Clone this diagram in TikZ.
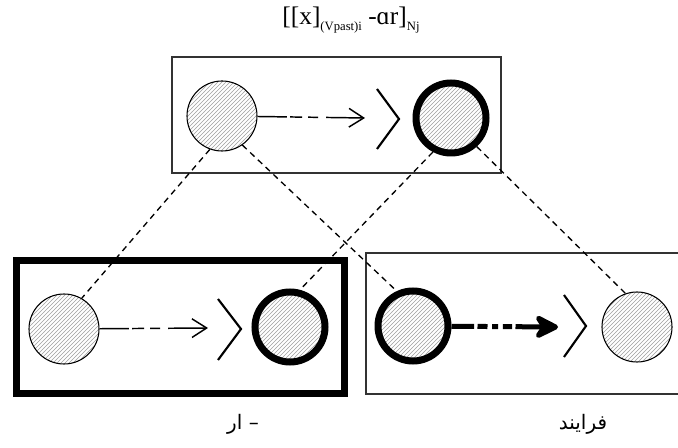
\documentclass[tikz,border=0pt]{standalone}
\usepackage{fontspec}
\usepackage{graphicx}
\setmainfont{Liberation Serif}
\newfontfamily\arabicfont[Script=Arabic]{DejaVu Sans}
\TeXXeTstate=1
\usetikzlibrary{arrows.meta,patterns}
\begin{document}
\begin{tikzpicture}[x=0.75pt,y=-0.75pt,
  hatched/.style={circle, draw, inner sep=0pt, minimum size=52.5pt, line width=0.8pt,
    pattern=north east lines, pattern color=gray!75},
  boldring/.style={hatched, line width=5.25pt},
  thinbox/.style={draw=black!80, line width=1.1pt},
  thickbox/.style={draw, line width=5.25pt},
  chevron/.style={line width=1.6pt},
  link/.style={line width=1pt, dash pattern=on 4.5pt off 3.5pt},
  thinarrow/.style={line width=1.1pt, -{Straight Barb[length=11pt,width=14pt]},
    dash pattern=on 22pt off 2.5pt on 9pt off 4.5pt on 7.5pt off 6pt on 80pt},
  thickarrow/.style={line width=3.75pt, -{Stealth[length=22pt,width=22pt,inset=7pt,round]},
    dash pattern=on 17pt off 2.5pt on 7.5pt off 3.5pt on 4.5pt off 3.5pt on 7pt off 2.5pt on 80pt},
  label/.style={inner sep=0pt}]
\useasboundingbox (0,0) rectangle (678,448);

% title
\node[label] (title) at (351,20) {\fontsize{19}{22}\selectfont [[x]\raisebox{-4pt}{\fontsize{9.5}{10}\selectfont (Vpast)i} -ɑr]\raisebox{-4pt}{\fontsize{9.5}{10}\selectfont Nj}};

% boxes
\draw[thinbox] (172,57) rectangle (501,173);
\draw[thickbox] (16.5,260.5) rectangle (344.5,393.5);
\draw[thinbox] (366,253) rectangle (690,394);

% top row
\node[hatched] (A) at (222,116) {};
\node[boldring] (B) at (451,118) {};
\coordinate (t1) at (365,118);
\draw[thinarrow] (A) -- (t1);
\draw[chevron] (377,89) -- (399,119) -- (377,149);

% bottom left
\node[hatched] (C) at (64,329) {};
\node[boldring] (D) at (290,327) {};
\coordinate (t2) at (208,328);
\draw[thinarrow] (C) -- (t2);
\draw[chevron] (218,299) -- (241,329) -- (218,360);

% bottom right
\node[boldring] (E) at (413,326) {};
\node[hatched] (F) at (637,327) {};
\coordinate (t3) at (558,327);
\draw[thickarrow] (E) -- (t3);
\draw[chevron] (564,295) -- (586,326) -- (564,357);

% dashed links
\draw[link] (A.250) -- (C.60);
\draw[link] (A.305) -- (E.115);
\draw[link] (B.242) -- (D.75);
\draw[link] (B.312) -- (F.109);

% labels
\node[label] (l1) at (243,424) {\fontsize{15}{17}\arabicfont\beginR – ار\endR};
\node[label] (l2) at (583,424) {\fontsize{15}{17}\arabicfont\beginR فرایند\endR};
\end{tikzpicture}
\end{document}
